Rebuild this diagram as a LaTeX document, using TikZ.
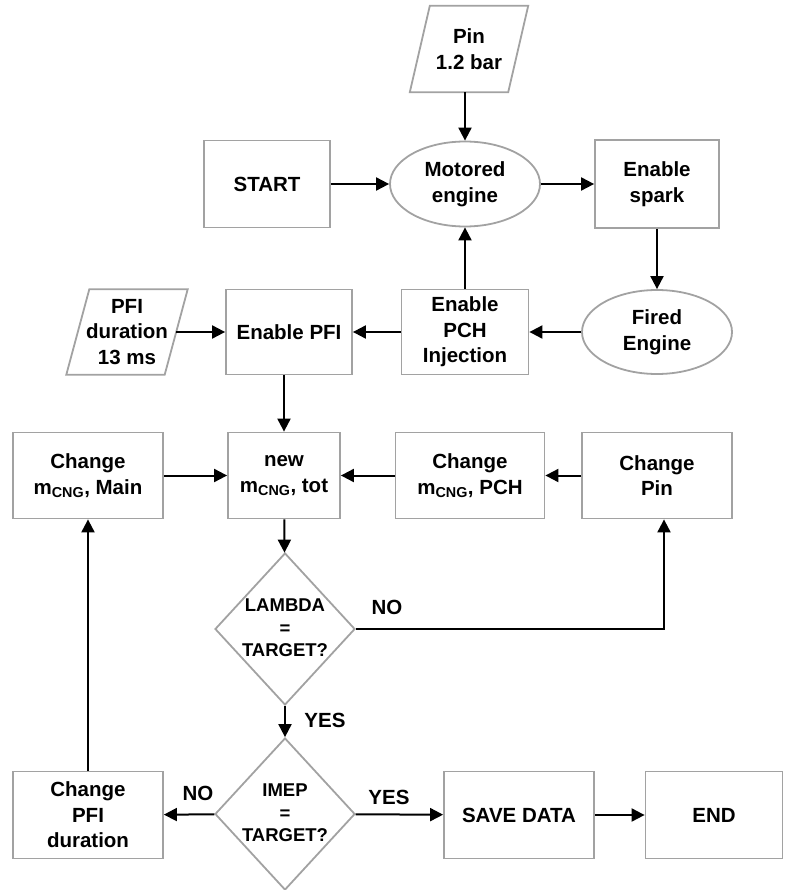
\documentclass[tikz,border=0pt]{standalone}
\usepackage{fontspec}
\setmainfont{Liberation Sans}
\usetikzlibrary{shapes.geometric,arrows.meta}
\definecolor{boxgray}{RGB}{162,162,162}
\newcommand{\mcng}{m\textsubscript{CNG}}
\newcommand{\dtext}[1]{\makebox[0pt]{\raisebox{-5pt}[0pt][0pt]{\fontsize{18.5}{22.5}\selectfont\begin{tabular}{@{}c@{}}#1\end{tabular}}}}
\begin{document}
\begin{tikzpicture}[x=1pt,y=-1pt,
  every node/.style={font=\bfseries\fontsize{20.5}{25.5}\selectfont, align=center},
  box/.style={rectangle, draw=boxgray, line width=1.8pt, inner sep=0pt},
  ell/.style={ellipse, draw=boxgray, line width=1.8pt, inner sep=0pt},
  dia/.style={diamond, draw=boxgray, line width=1.8pt, inner sep=0pt, minimum width=140pt, minimum height=152pt},
  plain/.style={rectangle, inner sep=0pt},
  pgram/.style={draw=boxgray, line width=1.8pt, line join=miter},
  arr/.style={-{Triangle[length=13pt,width=13pt]}, line width=2pt, black},
  lbl/.style={inner sep=0pt}]
\useasboundingbox (0,0) rectangle (784,890);
% row 1
\node[plain, minimum width=98pt, minimum height=86pt] (pin) at (469,49) {Pin\\1.2 bar};
\draw[pgram] ([xshift=-10pt]pin.south west) -- ([xshift=10pt]pin.north west) -- ([xshift=10pt]pin.north east) -- ([xshift=-10pt]pin.south east) -- cycle;
\node[box, minimum width=126pt, minimum height=87pt] (start) at (267,184) {START};
\node[ell, minimum width=150pt, minimum height=85pt] (mot) at (465,184) {Motored\\engine};
\node[box, minimum width=124pt, minimum height=88pt] (spark) at (657,184) {Enable\\spark};
% row 2
\node[plain, minimum width=98pt, minimum height=85pt] (pfid) at (127,332) {PFI\\duration\\13 ms};
\draw[pgram] ([xshift=-11.5pt]pfid.south west) -- ([xshift=11.5pt]pfid.north west) -- ([xshift=11.5pt]pfid.north east) -- ([xshift=-11.5pt]pfid.south east) -- cycle;
\node[box, minimum width=126pt, minimum height=85pt] (epfi) at (289,332) {Enable PFI};
\node[box, minimum width=127pt, minimum height=85pt] (epch) at (465,332) {Enable\\PCH\\Injection};
\node[ell, minimum width=150pt, minimum height=84pt] (fired) at (657,332) {Fired\\Engine};
% row 3
\node[box, minimum width=150pt, minimum height=86pt] (cmain) at (88,475.5) {Change\\\mcng, Main};
\node[box, minimum width=112pt, minimum height=86pt] (new) at (284,475.5) {new\\\mcng, tot};
\node[box, minimum width=149pt, minimum height=86pt] (cpch) at (470,475.5) {Change\\\mcng, PCH};
\node[box, minimum width=150pt, minimum height=86pt] (cpin) at (657,475.5) {Change\\Pin};
% decisions
\node[dia] (lam) at (285,629) {\dtext{LAMBDA\\=\\TARGET?}};
\node[dia] (imep) at (285,814) {\dtext{IMEP\\=\\TARGET?}};
% bottom row
\node[box, minimum width=150pt, minimum height=87pt] (cpfi) at (88,815) {Change\\PFI\\duration};
\node[box, minimum width=150pt, minimum height=87pt] (save) at (519,815) {SAVE DATA};
\node[box, minimum width=137pt, minimum height=87pt] (end) at (714,815) {END};
% labels
\node[lbl] (no1) at (387,607) {NO};
\node[lbl] (yes1) at (325,720) {YES};
\node[lbl] (no2) at (198,793) {NO};
\node[lbl] (yes2) at (389,797) {YES};
% connectors
\draw[arr] (start) -- (mot);
\draw[arr] (mot) -- (spark);
\draw[arr] (pin.south -| mot.north) -- (mot.north);
\draw[arr] (spark) -- (fired);
\draw[arr] (epch) -- (mot);
\draw[arr] (fired) -- (epch);
\draw[arr] (epch) -- (epfi);
\draw[arr] (pfid) -- (epfi);
\draw[arr] (epfi.south -| new.north) -- (new.north);
\draw[arr] (cmain) -- (new);
\draw[arr] (cpch) -- (new);
\draw[arr] (cpin) -- (cpch);
\draw[arr] (new) -- (lam);
\draw[arr] (lam.east) -| ([xshift=7pt]cpin.south);
\draw[arr] (lam) -- (imep);
\draw[arr] (imep) -- (cpfi);
\draw[arr] (imep) -- (save);
\draw[arr] (save) -- (end);
\draw[arr] (cpfi) -- (cmain);
\end{tikzpicture}
\end{document}
